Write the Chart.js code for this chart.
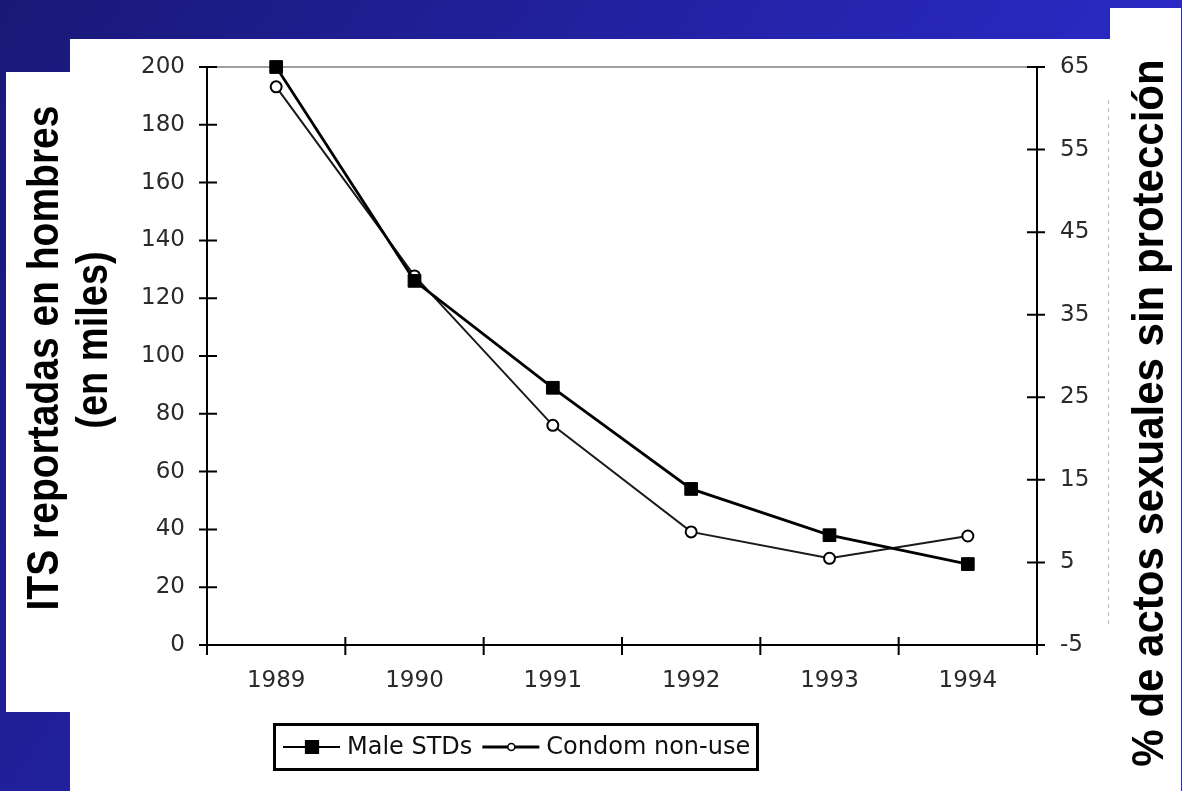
<!DOCTYPE html>
<html>
<head>
<meta charset="utf-8">
<script src="https://cdn.jsdelivr.net/npm/chart.js@4.4.0/dist/chart.umd.min.js"></script>
<style>
  html, body { margin: 0; padding: 0; background: #fff; }
  #wrap { width: 1182px; height: 791px; position: relative; }
</style>
</head>
<body>
<div id="wrap"><canvas id="grafico"></canvas></div>
<script>
// x categories
var anni = ["1989", "1990", "1991", "1992", "1993", "1994"];
// left axis series (thousands)
var maleStds = [200, 126, 89, 54, 38, 28];
// right axis series (%)
var condomNonUse = [62.6, 39.7, 21.6, 8.7, 5.5, 8.2];
// series names
var nomi = ["Male STDs", "Condom non-use"];
// axis titles
var titoloSx = ["ITS reportadas en hombres", "(en miles)"];
var titoloDx = "% de actos sexuales sin protección";
// tick ranges
var tickSx = [0, 200, 20];
var tickDx = [-5, 65, 10];

const fontTick = { family: "'DejaVu Sans', sans-serif", size: 23 };

// slide background: blue gradient + white panels
const sfondo = {
  id: 'sfondo',
  beforeDraw(chart) {
    const ctx = chart.ctx, w = chart.width, h = chart.height;
    ctx.save();
    const g = ctx.createLinearGradient(0, 0, 900, 600);
    g.addColorStop(0, '#1a1877');
    g.addColorStop(1, '#2b2bcc');
    ctx.fillStyle = g;
    ctx.fillRect(0, 0, w, h);
    ctx.fillStyle = '#fff';
    ctx.fillRect(70, 39, 1041, h - 39);
    ctx.fillRect(6, 72, 64, 640);
    ctx.fillRect(1110, 8, 71, h - 8);
    // leftover dashed edge
    ctx.strokeStyle = '#bbb';
    ctx.lineWidth = 1;
    ctx.setLineDash([4, 4]);
    ctx.beginPath();
    ctx.moveTo(1108.5, 100);
    ctx.lineTo(1108.5, 625);
    ctx.stroke();
    ctx.restore();
  },
  beforeDatasetsDraw(chart) {
    // light top frame line
    const { ctx, chartArea: a } = chart;
    ctx.save();
    ctx.strokeStyle = '#a0a0a0';
    ctx.lineWidth = 2;
    ctx.beginPath();
    ctx.moveTo(a.left, a.top);
    ctx.lineTo(a.right, a.top);
    ctx.stroke();
    ctx.restore();
  }
};

// tick marks crossing the axes
const tacche = {
  id: 'tacche',
  afterDraw(chart) {
    const { ctx, chartArea: a } = chart;
    const x = chart.scales.x, y = chart.scales.y, y1 = chart.scales.y1;
    ctx.save();
    ctx.strokeStyle = '#000';
    ctx.lineWidth = 2;
    ctx.beginPath();
    y.ticks.forEach(t => {
      const p = y.getPixelForValue(t.value);
      ctx.moveTo(a.left - 8, p); ctx.lineTo(a.left + 10, p);
    });
    y1.ticks.forEach(t => {
      const p = y1.getPixelForValue(t.value);
      ctx.moveTo(a.right - 10, p); ctx.lineTo(a.right + 8, p);
    });
    const passo = x.getPixelForValue(1) - x.getPixelForValue(0);
    for (let i = 0; i <= anni.length; i++) {
      const p = x.getPixelForValue(0) - passo / 2 + i * passo;
      ctx.moveTo(p, a.bottom - 8); ctx.lineTo(p, a.bottom + 10);
    }
    ctx.stroke();
    ctx.restore();
  }
};

// rotated axis titles
const titoli = {
  id: 'titoli',
  afterDraw(chart) {
    const ctx = chart.ctx;
    ctx.save();
    ctx.fillStyle = '#000';
    ctx.textAlign = 'center';
    ctx.textBaseline = 'alphabetic';
    function scrivi(testo, bx, cy, size, sy) {
      ctx.save();
      ctx.translate(bx, cy);
      ctx.rotate(-Math.PI / 2);
      ctx.scale(1, sy);
      ctx.font = 'bold ' + size + "px 'Liberation Sans', Arial, sans-serif";
      ctx.fillText(testo, 0, 0);
      ctx.restore();
    }
    scrivi(titoloSx[0], 58, 358, 39, 1.15);
    scrivi(titoloSx[1], 107, 340, 38, 1.15);
    scrivi(titoloDx, 1163, 413, 42, 1.05);
    ctx.restore();
  }
};

// boxed legend under the plot
const legenda = {
  id: 'legenda',
  afterDraw(chart) {
    const ctx = chart.ctx;
    const lw = [2, 3];
    const rad = [9, 3.5];
    ctx.save();
    ctx.strokeStyle = '#000';
    ctx.lineWidth = 3;
    ctx.strokeRect(274.5, 724.5, 483, 45);
    ctx.font = fontTick.size + 1 + "px 'DejaVu Sans', sans-serif";
    ctx.textBaseline = 'middle';
    let px = 283;
    const cy = 747;
    chart.data.datasets.forEach((ds, i) => {
      ctx.strokeStyle = '#000';
      ctx.lineWidth = lw[i];
      ctx.beginPath();
      ctx.moveTo(px, cy); ctx.lineTo(px + 57, cy);
      ctx.stroke();
      ctx.fillStyle = ds.pointBackgroundColor;
      ctx.strokeStyle = ds.pointBorderColor;
      ctx.lineWidth = 1.5;
      Chart.helpers.drawPoint(ctx, { pointStyle: ds.pointStyle, radius: rad[i], rotation: 0, borderWidth: 1.5 }, px + 29, cy);
      ctx.fillStyle = '#111';
      ctx.fillText(ds.label, px + 64, cy + 1);
      px = px + 64 + ctx.measureText(ds.label).width + 10;
    });
    ctx.restore();
  }
};

new Chart(document.getElementById('grafico'), {
  type: 'line',
  data: {
    labels: anni,
    datasets: [{
      label: nomi[0],
      data: maleStds,
      yAxisID: 'y',
      borderColor: '#000',
      borderWidth: 2.8,
      backgroundColor: '#000',
      pointStyle: 'rect',
      pointRadius: 9,
      pointBackgroundColor: '#000',
      pointBorderColor: '#000',
      pointBorderWidth: 1,
      clip: false
    }, {
      label: nomi[1],
      data: condomNonUse,
      yAxisID: 'y1',
      borderColor: '#1a1a1a',
      borderWidth: 2,
      backgroundColor: '#fff',
      pointStyle: 'circle',
      pointRadius: 5.5,
      pointBackgroundColor: '#fff',
      pointBorderColor: '#000',
      pointBorderWidth: 2,
      clip: false
    }]
  },
  options: {
    responsive: true,
    maintainAspectRatio: false,
    animation: false,
    layout: { padding: { top: 67, left: 0, right: 0, bottom: 0 } },
    plugins: { legend: { display: false }, tooltip: { enabled: false } },
    scales: {
      x: {
        offset: true,
        grid: { display: false, drawTicks: false },
        border: { color: '#000', width: 2 },
        ticks: { font: fontTick, color: '#2a2a2a', padding: 22 },
        afterFit(s) { s.height = 146; }
      },
      y: {
        position: 'left',
        min: tickSx[0], max: tickSx[1],
        grid: { display: false, drawTicks: false },
        border: { color: '#000', width: 2 },
        ticks: { stepSize: tickSx[2], font: fontTick, color: '#2a2a2a', padding: 22 },
        afterFit(s) { s.width = 207; }
      },
      y1: {
        position: 'right',
        min: tickDx[0], max: tickDx[1],
        grid: { display: false, drawTicks: false },
        border: { color: '#000', width: 2 },
        ticks: { stepSize: tickDx[2], font: fontTick, color: '#2a2a2a', padding: 23 },
        afterFit(s) { s.width = 145; }
      }
    }
  },
  plugins: [sfondo, tacche, titoli, legenda]
});
</script>
</body>
</html>
